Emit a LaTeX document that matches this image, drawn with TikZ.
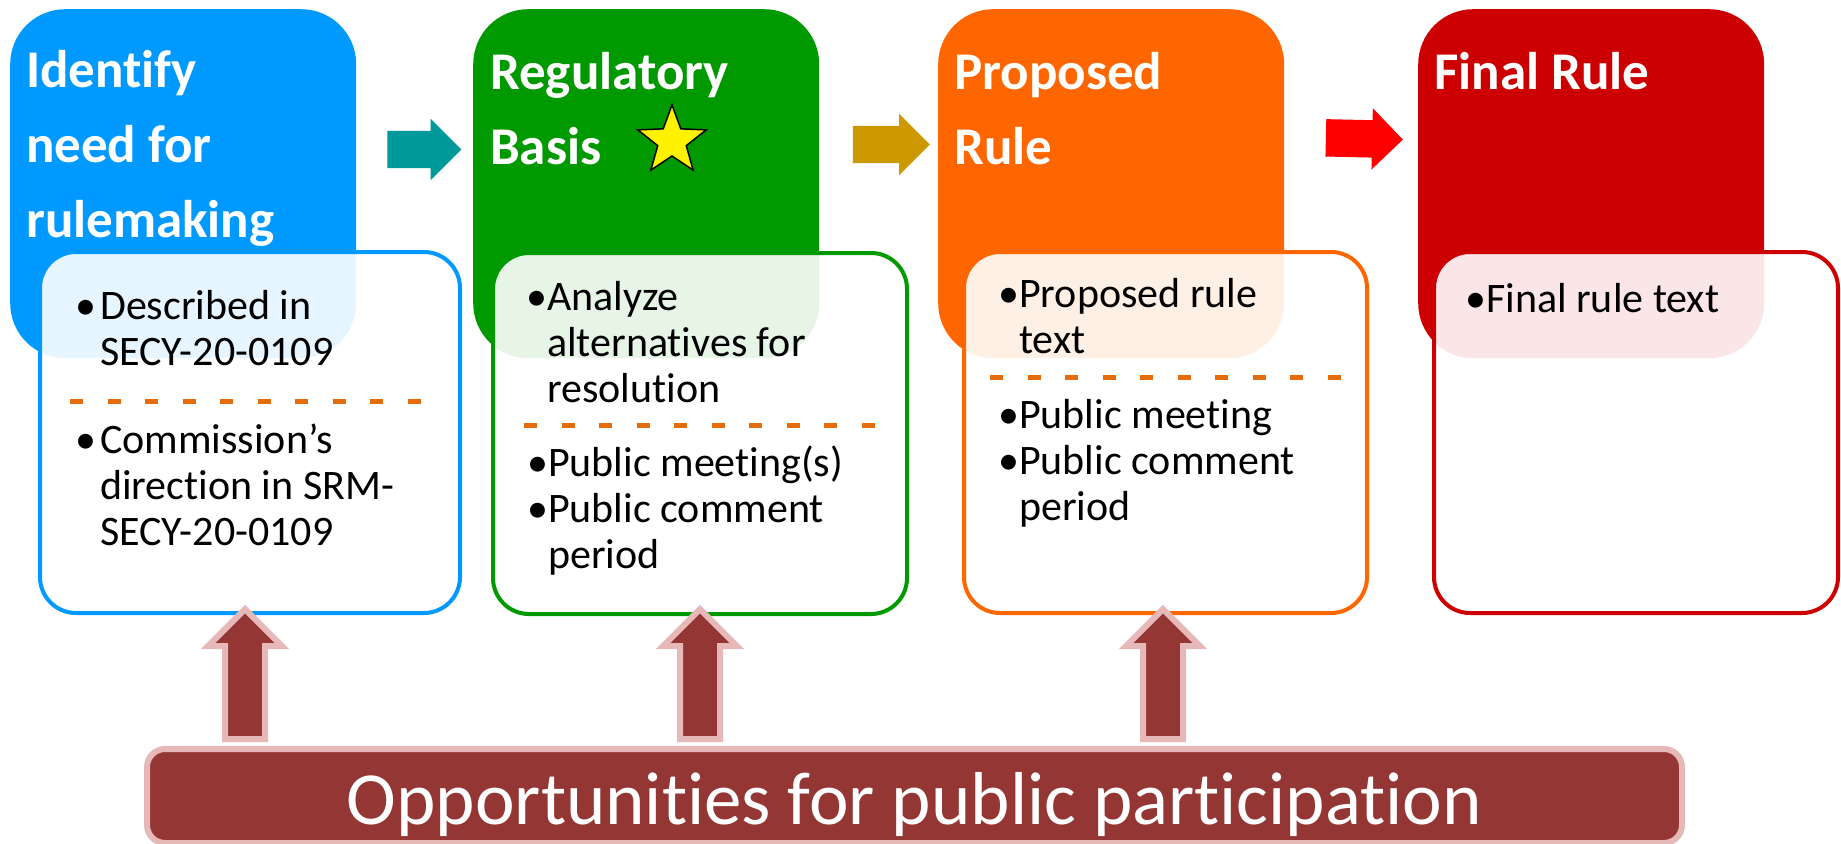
\documentclass[tikz,border=0pt]{standalone}
\usepackage{fontspec}
\setmainfont{Carlito}[Ligatures=NoCommon]
\usetikzlibrary{shapes.arrows,shapes.geometric}

\definecolor{stepblue}{HTML}{0099FF}
\definecolor{stepgreen}{HTML}{009900}
\definecolor{steporange}{HTML}{FF6600}
\definecolor{stepred}{HTML}{CC0000}
\definecolor{arrteal}{HTML}{009999}
\definecolor{arrgold}{HTML}{CC9900}
\definecolor{arrred}{HTML}{FF0000}
\definecolor{barred}{HTML}{943634}
\definecolor{barpink}{HTML}{E6B9B8}
\definecolor{dashorange}{HTML}{E46C0A}

\begin{document}
\begin{tikzpicture}[x=1pt,y=-1pt,
headbox/.style={rectangle, rounded corners=55pt, anchor=north west,
  minimum width=346pt, minimum height=349pt, inner sep=0pt},
infobox/.style={rectangle, rounded corners=36pt, anchor=north west,
  minimum height=361pt, fill=white, fill opacity=0.9, line width=4pt, inner sep=0pt},
headtext/.style={anchor=base west, align=left, inner sep=0pt, text=white,
  font=\bfseries\fontsize{53}{75}\selectfont},
infotext/.style={anchor=base west, align=left, inner sep=0pt,
  font=\fontsize{42}{46}\selectfont},
sepline/.style={draw=dashorange, line width=5pt, dash pattern=on 13pt off 24.5pt},
steparrow/.style={single arrow, minimum width=61pt, single arrow head extend=12pt,
  single arrow tip angle=90, inner xsep=0pt, inner ysep=18.5pt},
uparrow/.style={single arrow, rotate=90, minimum width=67.6pt, minimum height=130pt,
  single arrow head extend=16.8pt, single arrow tip angle=90, inner xsep=0pt,
  inner ysep=17pt, fill=barred, draw=barpink, line width=6pt}]
\useasboundingbox (0,0) rectangle (1841,843);

% stage headers
\node[headbox, fill=stepblue] (idn) at (10,9) {};
\node[headbox, fill=stepgreen] (reg) at (473,9) {};
\node[headbox, fill=steporange] (prop) at (938,9) {};
\node[headbox, fill=stepred] (fin) at (1418,9) {};
\node[headtext] (idn-t) at (26,237) {Identify\\need for\\rulemaking};
\node[headtext] (reg-t) at (490,164) {Regulatory\\Basis};
\node[headtext] (prop-t) at (954,164) {Proposed\\Rule};
\node[headtext] (fin-t) at (1434,89) {Final Rule};
\node[star, star points=5, star point ratio=2.4, minimum size=72pt, inner sep=0pt,
  fill=yellow, draw=black, line width=1.5pt] (star) at (672,141) {};

% arrows between stages
\node[steparrow, fill=arrteal, minimum height=74pt] (a1) at (415,149.5) {};
\node[steparrow, fill=arrgold, minimum height=77pt] (a2) at (882,144.5) {};
\node[steparrow, fill=arrred, minimum height=77pt, rotate=-1.3] (a3) at (1355,138.5) {};

% detail boxes
\node[infobox, draw=stepblue, minimum width=420pt] (idn-d) at (38,250) {};
\node[infobox, draw=stepgreen, minimum width=414pt] (reg-d) at (491,251) {};
\node[infobox, draw=steporange, minimum width=403pt] (prop-d) at (962,250) {};
\node[infobox, draw=stepred, minimum width=404pt] (fin-d) at (1432,250) {};

\node[infotext] (idn-a) at (75,365) {\makebox[25pt][l]{•}Described in\\\hspace*{25pt}SECY-20-0109};
\draw[sepline] (70,401) -- (428,401);
\node[infotext] (idn-b) at (75,545) {\makebox[25pt][l]{•}Commission’s\\\hspace*{25pt}direction in SRM-\\\hspace*{25pt}SECY-20-0109};

\node[infotext] (reg-a) at (526,402) {\makebox[21pt][l]{•}Analyze\\\hspace*{21pt}alternatives for\\\hspace*{21pt}resolution};
\draw[sepline] (524,425) -- (882,425);
\node[infotext] (reg-b) at (527,568) {\makebox[21pt][l]{•}Public meeting(s)\\\makebox[21pt][l]{•}Public comment\\\hspace*{21pt}period};

\node[infotext] (prop-a) at (998,353) {\makebox[21pt][l]{•}Proposed rule\\\hspace*{21pt}text};
\draw[sepline] (990,377) -- (1347,377);
\node[infotext] (prop-b) at (998,520) {\makebox[21pt][l]{•}Public meeting\\\makebox[21pt][l]{•}Public comment\\\hspace*{21pt}period};

\node[infotext] (fin-a) at (1465,312) {•Final rule text};

% public participation
\node[uparrow] (p1) at (245,684.2) {};
\node[uparrow] (p2) at (700,684.2) {};
\node[uparrow] (p3) at (1163,684.2) {};
\node[rectangle, rounded corners=18pt, anchor=north west, minimum width=1535pt,
  minimum height=94pt, inner sep=0pt, text height=56pt, text depth=0pt,
  fill=barred, draw=barpink, line width=6pt, text=white,
  font=\fontsize{75}{90}\selectfont] (bar) at (144,746) {Opportunities for public participation};
\end{tikzpicture}
\end{document}
